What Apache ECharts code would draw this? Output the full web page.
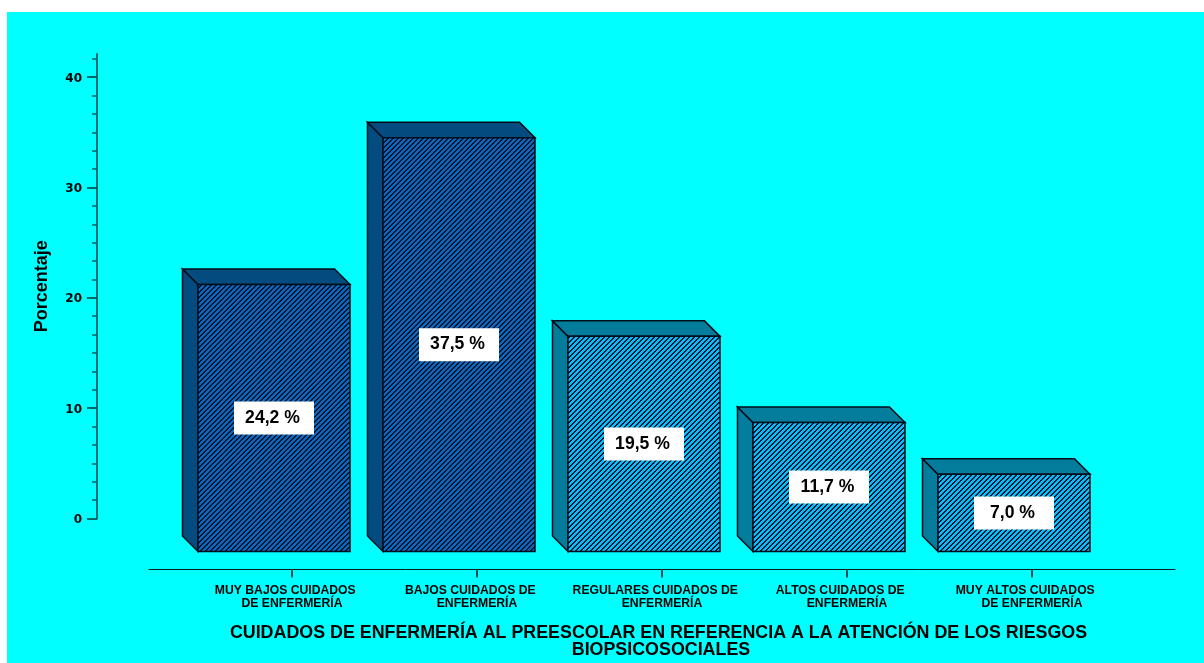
<!DOCTYPE html>
<html><head><meta charset="utf-8">
<style>html,body{margin:0;padding:0;background:#fff}#c{width:1204px;height:663px}</style>
<script src="https://cdn.jsdelivr.net/npm/echarts@6/dist/echarts.min.js"></script>
</head><body><div id="c"></div>
<script>
const categories = ['MUY BAJOS CUIDADOS    \nDE ENFERMERÍA','BAJOS CUIDADOS DE    \nENFERMERÍA','REGULARES CUIDADOS DE    \nENFERMERÍA','ALTOS CUIDADOS DE    \nENFERMERÍA','MUY ALTOS CUIDADOS    \nDE ENFERMERÍA'];
const values = [24.2, 37.5, 19.5, 11.7, 7.0];
const yTicks = [0, 10, 20, 30, 40];
const xTicks = [0, 1, 2, 3, 4];
const faceColors = ['#0a68c0','#0a68c0','#00c0ff','#00c0ff','#00c0ff'];
const sideColors = ['#044c80','#044c80','#047c9c','#047c9c','#047c9c'];
const xTitle = 'CUIDADOS DE ENFERMERÍA AL PREESCOLAR EN REFERENCIA A LA ATENCIÓN DE LOS RIESGOS\n BIOPSICOSOCIALES';
const yTitle = 'Porcentaje';

function hatch(color){
  const c=document.createElement('canvas');c.width=5;c.height=5;
  const g=c.getContext('2d');g.fillStyle=color;g.fillRect(0,0,5,5);
  g.fillStyle='#04142a';
  for(let x=0;x<5;x++)for(let y=0;y<5;y++){if((x+y)%5<2)g.fillRect(x,y,1,1);}
  return {image:c,repeat:'repeat'};
}
const fills=faceColors.map(hatch);
const DX=18, DY=33, D=15.5, BW=152;
const chart=echarts.init(document.getElementById('c'),null,{renderer:'canvas'});
chart.setOption({
  animation:false,
  backgroundColor:'#ffffff',
  graphic:[{type:'rect',z:-10,silent:true,shape:{x:7,y:12,width:1197,height:651},style:{fill:'#00ffff'}}],
  grid:{left:149,right:29,top:54,bottom:144.5,containLabel:false,outerBoundsMode:'none'},
  xAxis:{type:'value',min:-0.773,max:4.773,offset:51,position:'bottom',splitLine:{show:false},
    axisLine:{show:true,onZero:false,lineStyle:{color:'#002020',width:1}},
    axisTick:{show:true,length:8,customValues:xTicks,lineStyle:{color:'#005050',width:2}},
    axisLabel:{customValues:xTicks,margin:15,formatter:v=>categories[v],color:'#000',fontFamily:'Liberation Sans',fontWeight:'bold',fontSize:12.2,lineHeight:13,align:'center'},
    name:xTitle,nameLocation:'middle',nameGap:55,
    nameTextStyle:{color:'#000',fontFamily:'Liberation Sans',fontWeight:'bold',fontSize:17.85,lineHeight:17,padding:[0,7,0,0]}
  },
  yAxis:{type:'value',min:0,max:42.1,interval:10,offset:52,position:'left',splitLine:{show:false},
    axisLine:{show:true,onZero:false,lineStyle:{color:'#007070',width:2}},
    axisTick:{show:true,length:10,customValues:yTicks,lineStyle:{color:'#003838',width:1.5}},
    minorTick:{show:true,splitNumber:6,length:5,lineStyle:{color:'#006060',width:1.5}},
    axisLabel:{customValues:yTicks,margin:15,formatter:v=>'{a|'+v+'}',
      rich:{a:{padding:[3,0,0,0],color:'#000',fontFamily:'DejaVu Sans',fontWeight:'bold',fontSize:12}}},
    name:yTitle,nameLocation:'middle',nameGap:45.5,
    nameTextStyle:{color:'#000',fontFamily:'Liberation Sans',fontWeight:'bold',fontSize:18}
  },
  series:[{type:'custom',clip:false,silent:true,
    data:values.map((v,i)=>[i,v]),
    encode:{x:0,y:1},
    renderItem(params,api){
      const i=api.value(0),v=api.value(1);
      const p=api.coord([i,v]),b=api.coord([i,0]);
      const cx=p[0]-DX, top=p[1]+DY, bot=b[1]+DY;
      const l=cx-BW/2,r=cx+BW/2;
      const line={stroke:'#000c18',lineWidth:1.5};
      const txt=v.toFixed(1).replace('.',',')+' %';
      const my=(top+bot)/2;
      return {type:'group',children:[
        {type:'polygon',shape:{points:[[l-D,top-D],[l,top],[l,bot],[l-D,bot-D]]},style:{fill:sideColors[i],...line}},
        {type:'polygon',shape:{points:[[l-D,top-D],[r-D,top-D],[r,top],[l,top]]},style:{fill:sideColors[i],...line}},
        {type:'rect',shape:{x:l,y:top,width:BW,height:bot-top},style:{fill:fills[i],...line}},
        {type:'rect',shape:{x:cx-40,y:my-16.5,width:80,height:33},style:{fill:'#fff'}},
        {type:'text',style:{x:cx-1.5,y:my,text:txt,align:'center',verticalAlign:'middle',fill:'#000',font:'bold 17.6px "Liberation Sans"'}}
      ]};
    }
  }]
});
</script></body></html>
